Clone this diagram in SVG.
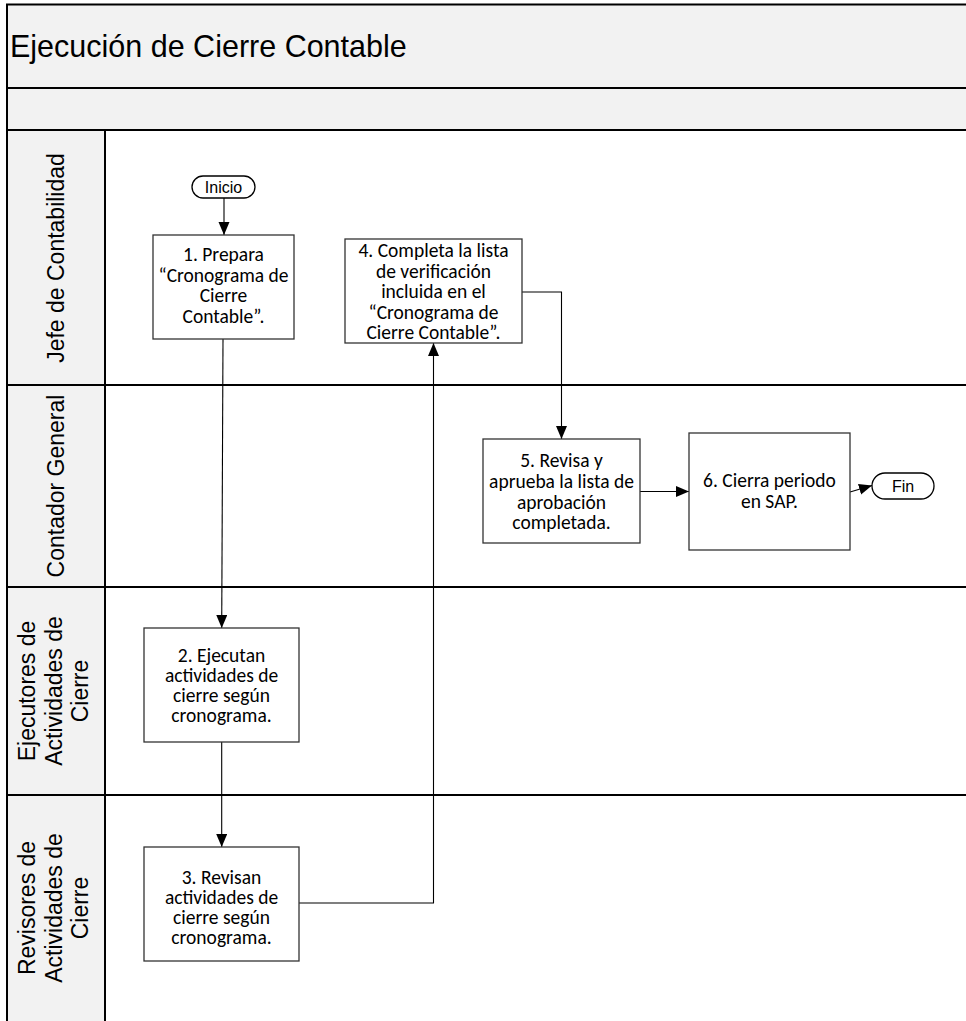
<svg xmlns="http://www.w3.org/2000/svg" width="966" height="1021" viewBox="0 0 966 1021">
  <style>
    .band { fill: #f2f2f2; stroke: none; }
    .frame { stroke: #000; stroke-width: 2; fill: none; }
    .title { font-family: "Liberation Sans", Arial, sans-serif; font-size: 30.5px; fill: #000; }
    .lane { font-family: "Liberation Sans", Arial, sans-serif; font-size: 23px; fill: #000; text-anchor: middle; }
    .box { fill: #fff; stroke: #333; stroke-width: 1.3; }
    .pill { fill: #fff; stroke: #000; stroke-width: 1.3; }
    .t { font-family: Carlito, Lato, "Liberation Sans", sans-serif; font-size: 19.5px; fill: #000; text-anchor: middle; }
    .pt { font-family: "Liberation Sans", Arial, sans-serif; font-size: 16px; fill: #000; text-anchor: middle; }
    .conn { stroke: #000; stroke-width: 1.1; fill: none; }
  </style>
  <defs>
    <marker id="arr" markerUnits="userSpaceOnUse" markerWidth="14" markerHeight="12" refX="13" refY="5.5" orient="auto">
      <path d="M0,0 L13,5.5 L0,11 z" fill="#000"/>
    </marker>
  </defs>

  <g id="pool">
    <rect class="band" x="7" y="4.5" width="965" height="125.5"/>
    <rect class="band" x="7" y="130" width="98" height="895"/>
    <rect x="105" y="130" width="865" height="895" fill="#fff"/>
    <path class="frame" d="M7,1025 V4.5 H972 M7,88 H972 M7,130 H972 M105,130 V1025 M7,385 H972 M7,587 H972 M7,795 H972"/>
    <text class="title" x="10" y="57">Ejecución de Cierre Contable</text>
  </g>

  <g id="lane-labels">
    <text class="lane" transform="translate(64,258) rotate(-90)">Jefe de Contabilidad</text>
    <text class="lane" transform="translate(64,486) rotate(-90)">Contador General</text>
    <text class="lane" transform="translate(0,691) rotate(-90)"><tspan x="0" y="35">Ejecutores de</tspan><tspan x="0" y="62">Actividades de</tspan><tspan x="0" y="88">Cierre</tspan></text>
    <text class="lane" transform="translate(0,908) rotate(-90)"><tspan x="0" y="35">Revisores de</tspan><tspan x="0" y="62">Actividades de</tspan><tspan x="0" y="88">Cierre</tspan></text>
  </g>

  <g id="connectors">
    <path class="conn" marker-end="url(#arr)" d="M224,198 V235"/>
    <path class="conn" marker-end="url(#arr)" d="M223,339 L221.7,628"/>
    <path class="conn" marker-end="url(#arr)" d="M221.7,742 V847"/>
    <path class="conn" marker-end="url(#arr)" d="M299,903 H433.5 V343"/>
    <path class="conn" marker-end="url(#arr)" d="M522,292 H561.5 V439"/>
    <path class="conn" marker-end="url(#arr)" d="M640,491.5 H689"/>
    <path class="conn" marker-end="url(#arr)" d="M850,492 L872,485.5"/>
  </g>

  <g id="inicio">
    <rect class="pill" x="192" y="176" width="63" height="22" rx="11"/>
    <text class="pt" x="223.5" y="192.5">Inicio</text>
  </g>

  <g id="n1">
    <rect class="box" x="153" y="235" width="141" height="104"/>
    <text class="t"><tspan x="223.5" y="261">1. Prepara</tspan><tspan x="223.5" y="281.5">“Cronograma de</tspan><tspan x="223.5" y="302">Cierre</tspan><tspan x="223.5" y="322.5">Contable”.</tspan></text>
  </g>

  <g id="n4">
    <rect class="box" x="345" y="239" width="177" height="104"/>
    <text class="t"><tspan x="433.5" y="257">4. Completa la lista</tspan><tspan x="433.5" y="277.5">de verificación</tspan><tspan x="433.5" y="298">incluida en el</tspan><tspan x="433.5" y="318.5">“Cronograma de</tspan><tspan x="433.5" y="339">Cierre Contable”.</tspan></text>
  </g>

  <g id="n5">
    <rect class="box" x="483" y="439" width="157" height="104"/>
    <text class="t"><tspan x="561.5" y="467">5. Revisa y</tspan><tspan x="561.5" y="488">aprueba la lista de</tspan><tspan x="561.5" y="508.5">aprobación</tspan><tspan x="561.5" y="529">completada.</tspan></text>
  </g>

  <g id="n6">
    <rect class="box" x="689" y="433" width="161" height="117"/>
    <text class="t"><tspan x="769.5" y="487">6. Cierra periodo</tspan><tspan x="769.5" y="508">en SAP.</tspan></text>
  </g>

  <g id="fin">
    <rect class="pill" x="872" y="473" width="62" height="26" rx="13"/>
    <text class="pt" x="903" y="491.5">Fin</text>
  </g>

  <g id="n2">
    <rect class="box" x="144" y="628" width="155" height="114"/>
    <text class="t"><tspan x="221.5" y="662">2. Ejecutan</tspan><tspan x="221.5" y="682">actividades de</tspan><tspan x="221.5" y="702">cierre según</tspan><tspan x="221.5" y="722">cronograma.</tspan></text>
  </g>

  <g id="n3">
    <rect class="box" x="144" y="847" width="155" height="114"/>
    <text class="t"><tspan x="221.5" y="884">3. Revisan</tspan><tspan x="221.5" y="904">actividades de</tspan><tspan x="221.5" y="924">cierre según</tspan><tspan x="221.5" y="944">cronograma.</tspan></text>
  </g>
</svg>
